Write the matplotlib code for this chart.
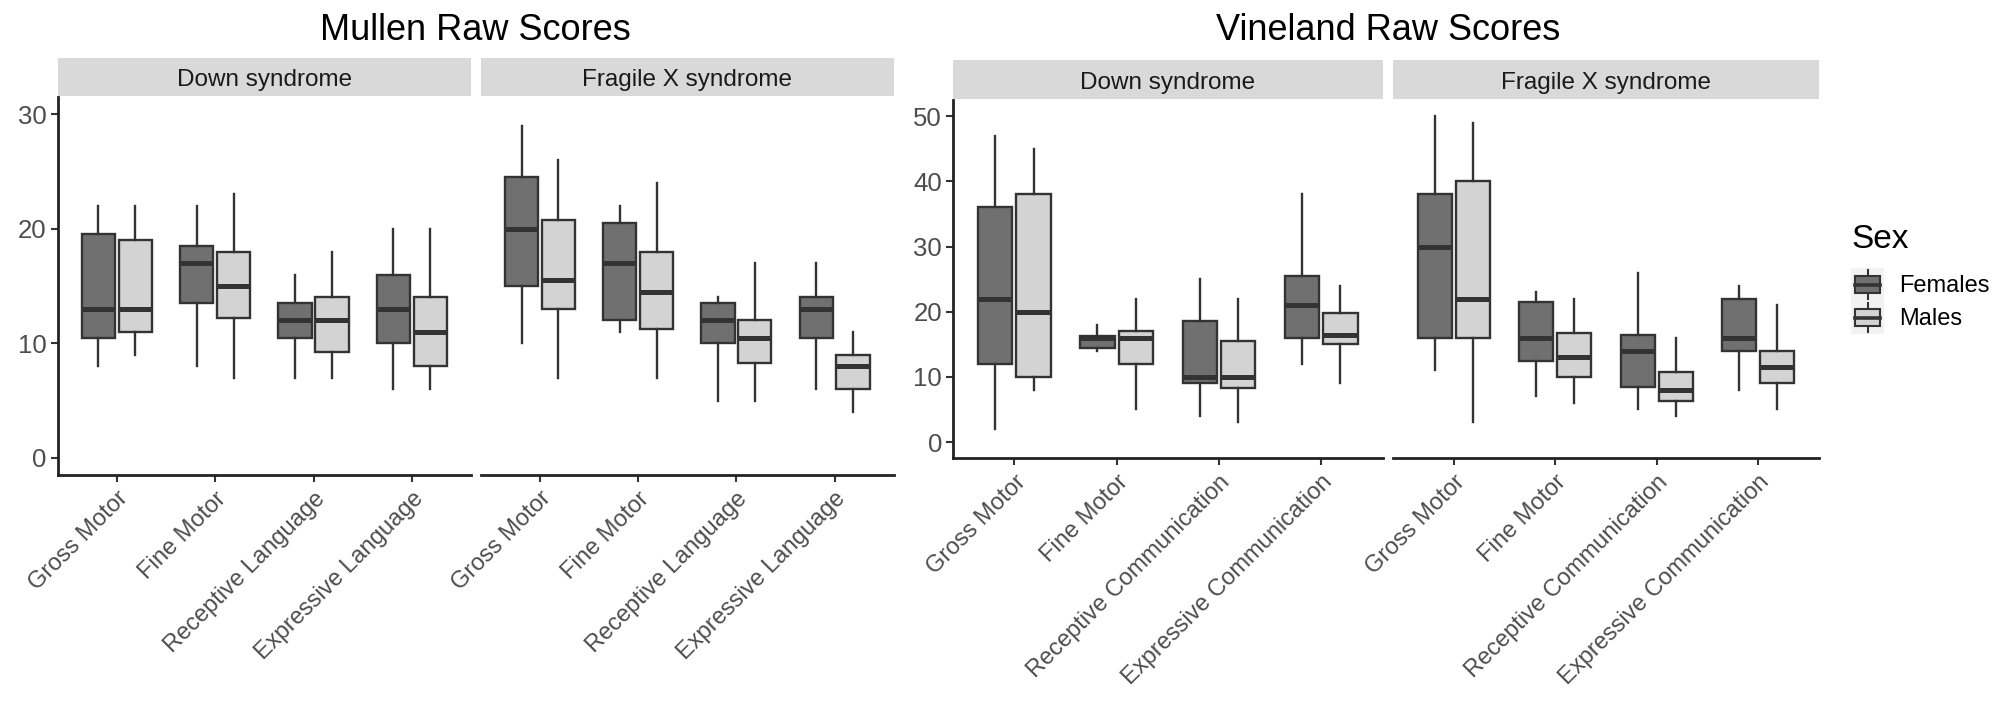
import numpy as np
import matplotlib
matplotlib.use("Agg")
import matplotlib.pyplot as plt
import matplotlib.transforms as mtransforms
from matplotlib.patches import Rectangle, Patch
from matplotlib.lines import Line2D
from matplotlib.legend_handler import HandlerBase

plt.rcParams['font.family'] = ['Liberation Sans', 'DejaVu Sans']

# box stats per category: [whisker low, q1, median, q3, whisker high]
mullen_cats = ['Gross Motor', 'Fine Motor', 'Receptive Language', 'Expressive Language']
vineland_cats = ['Gross Motor', 'Fine Motor', 'Receptive Communication', 'Expressive Communication']
groups = ['Down syndrome', 'Fragile X syndrome']
sexes = ['Females', 'Males']

mullen_ds_f = [[8, 10.5, 13, 19.5, 22], [8, 13.5, 17, 18.5, 22],
               [7, 10.5, 12, 13.5, 16], [6, 10, 13, 16, 20]]
mullen_ds_m = [[9, 11, 13, 19, 22], [7, 12.25, 15, 18, 23],
               [7, 9.25, 12, 14, 18], [6, 8, 11, 14, 20]]
mullen_fx_f = [[10, 15, 20, 24.5, 29], [11, 12, 17, 20.5, 22],
               [5, 10, 12, 13.5, 14], [6, 10.5, 13, 14, 17]]
mullen_fx_m = [[7, 13, 15.5, 20.75, 26], [7, 11.25, 14.5, 18, 24],
               [5, 8.25, 10.5, 12, 17], [4, 6, 8, 9, 11]]

vineland_ds_f = [[2, 12, 22, 36, 47], [14, 14.5, 16, 16.3, 18],
                 [4, 9, 10, 18.5, 25], [12, 16, 21, 25.5, 38]]
vineland_ds_m = [[8, 10, 20, 38, 45], [5, 12, 16, 17, 22],
                 [3, 8.25, 10, 15.5, 22], [9, 15, 16.5, 19.75, 24]]
vineland_fx_f = [[11, 16, 30, 38, 50], [7, 12.5, 16, 21.5, 23],
                 [5, 8.5, 14, 16.5, 26], [8, 14, 16, 22, 24]]
vineland_fx_m = [[3, 16, 22, 40, 49], [6, 10, 13, 16.75, 22],
                 [4, 6.25, 8, 10.75, 16], [5, 9, 11.5, 14, 21]]

fill_colors = {'Females': '#707070', 'Males': '#d3d3d3'}
edge = '#333333'

W, H = 2007, 703
fig = plt.figure(figsize=(W / 100, H / 100), dpi=100)


def rect(x0, y0, x1, y1):
    return [x0 / W, 1 - y1 / H, (x1 - x0) / W, (y1 - y0) / H]


def to_stats(rows):
    return [dict(whislo=r[0], q1=r[1], med=r[2], q3=r[3], whishi=r[4]) for r in rows]


def draw_panel(ax, cats, data_f, data_m, ylim, yticks, show_y):
    pos = np.arange(1, len(cats) + 1)
    for data, sex, off in [(data_f, 'Females', -0.1875), (data_m, 'Males', 0.1875)]:
        ax.bxp(to_stats(data), positions=pos + off, widths=0.3375,
               patch_artist=True, showfliers=False, showcaps=False,
               boxprops=dict(facecolor=fill_colors[sex], edgecolor=edge, linewidth=1.7),
               whiskerprops=dict(color=edge, linewidth=1.7),
               medianprops=dict(color=edge, linewidth=3.6, solid_capstyle='butt'))
    ax.set_xlim(0.4, len(cats) + 0.6)
    ax.set_ylim(*ylim)
    ax.set_xticks(pos)
    labels = ax.set_xticklabels(cats, rotation=45, ha='right', va='top',
                                rotation_mode='anchor', fontsize=17, color='#4d4d4d')
    shift = mtransforms.ScaledTranslation(5 / 100, -4 / 100, fig.dpi_scale_trans)
    for lab in labels:
        lab.set_transform(lab.get_transform() + shift)
    for s in ['top', 'right']:
        ax.spines[s].set_visible(False)
    ax.spines['bottom'].set_linewidth(2)
    ax.spines['bottom'].set_color('#222222')
    ax.tick_params(axis='x', length=5, width=1.5, color='#333333', pad=4)
    if show_y:
        ax.spines['left'].set_linewidth(2)
        ax.spines['left'].set_color('#222222')
        ax.set_yticks(yticks)
        ax.tick_params(axis='y', length=5, width=1.5, color='#333333',
                       labelsize=18.5, labelcolor='#4d4d4d', pad=3)
    else:
        ax.spines['left'].set_visible(False)
        ax.set_yticks([])
    ax.patch.set_alpha(0)


def draw_strip(box, label):
    sax = fig.add_axes(box)
    sax.set_facecolor('#d9d9d9')
    for s in sax.spines.values():
        s.set_visible(False)
    sax.set_xticks([])
    sax.set_yticks([])
    sax.text(0.5, 0.42, label, ha='center', va='center', fontsize=17.5,
             color='#1a1a1a', transform=sax.transAxes)


# Mullen
mullen_x = [(57.6, 471), (481, 893.5)]
for (x0, x1), g, df, dm in zip(mullen_x, groups,
                               [mullen_ds_f, mullen_fx_f], [mullen_ds_m, mullen_fx_m]):
    ax = fig.add_axes(rect(x0, 97, x1, 475))
    draw_panel(ax, mullen_cats, df, dm, (-1.5, 31.5), [0, 10, 20, 30], x0 < 100)
    draw_strip(rect(x0, 58, x1, 96), g)
fig.text(475 / W, 1 - 31 / H, 'Mullen Raw Scores', ha='center', va='center', fontsize=26)

# Vineland
vineland_x = [(953, 1382.6), (1393, 1819)]
for (x0, x1), g, df, dm in zip(vineland_x, groups,
                               [vineland_ds_f, vineland_fx_f], [vineland_ds_m, vineland_fx_m]):
    ax = fig.add_axes(rect(x0, 100, x1, 458.3))
    draw_panel(ax, vineland_cats, df, dm, (-2.5, 52.5), [0, 10, 20, 30, 40, 50], x0 < 1000)
    draw_strip(rect(x0, 60, x1, 99), g)
fig.text(1388 / W, 1 - 31 / H, 'Vineland Raw Scores', ha='center', va='center', fontsize=26)


class BoxKey(HandlerBase):
    def create_artists(self, legend, orig_handle, xdescent, ydescent,
                       width, height, fontsize, trans):
        x0, y0 = -xdescent, -ydescent
        bg = Rectangle((x0, y0), width, height, facecolor='#f2f2f2',
                       edgecolor='none', transform=trans)
        cx = x0 + width / 2
        wl = Line2D([cx, cx], [y0 + 0.07 * height, y0 + 0.93 * height],
                    color=edge, lw=1.5, transform=trans)
        box = Rectangle((x0 + 0.12 * width, y0 + 0.25 * height), 0.76 * width,
                        0.5 * height, facecolor=orig_handle.get_facecolor(),
                        edgecolor=edge, lw=1.5, transform=trans)
        med = Line2D([x0 + 0.12 * width, x0 + 0.88 * width],
                     [y0 + 0.5 * height] * 2, color=edge, lw=2.6, transform=trans)
        return [bg, wl, box, med]


# legend title placed by hand, keys below it
fig.text(1851 / W, 1 - 240 / H, 'Sex', ha='left', va='center', fontsize=24)
handles = [Patch(facecolor=fill_colors[s]) for s in sexes]
leg = fig.legend(handles, sexes, handler_map={Patch: BoxKey()},
                 loc='upper left', bbox_to_anchor=(1851 / W, 1 - 268 / H),
                 frameon=False, fontsize=17,
                 handlelength=1.40, handleheight=1.774, labelspacing=0.0,
                 handletextpad=0.62, borderpad=0, borderaxespad=0)

fig.savefig('out.png', dpi=100)
